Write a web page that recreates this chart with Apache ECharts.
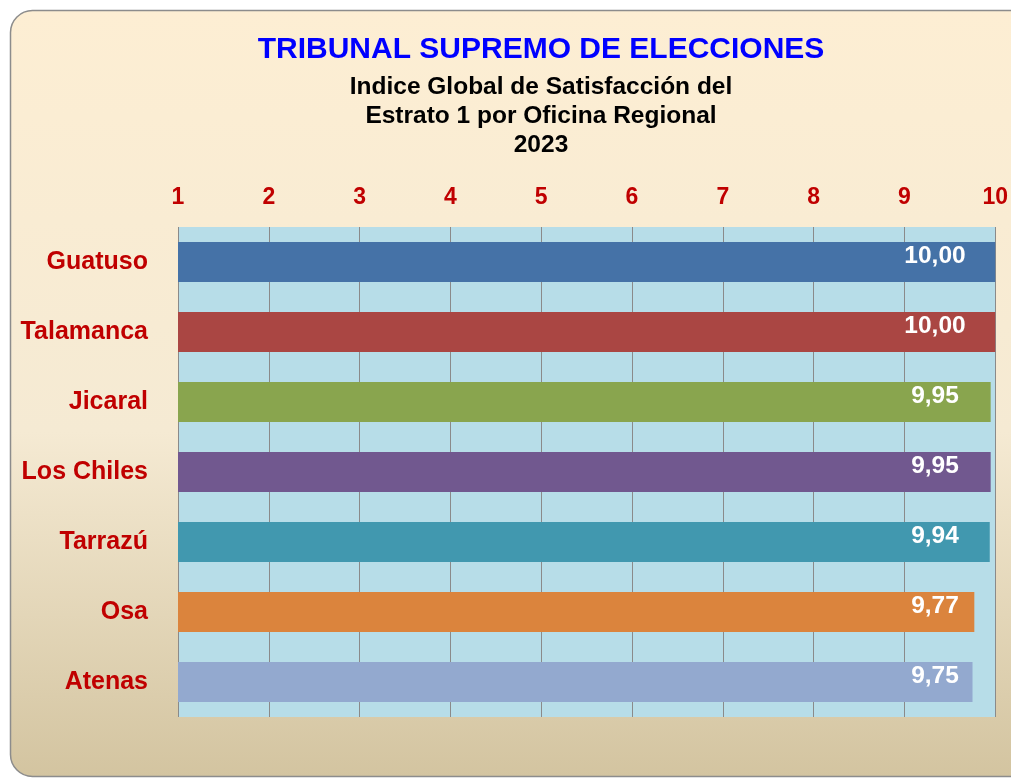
<!DOCTYPE html>
<html>
<head>
<meta charset="utf-8">
<script src="https://cdn.jsdelivr.net/npm/echarts@6/dist/echarts.min.js"></script>
<style>
html,body{margin:0;padding:0;background:#ffffff;}
#chart{width:1011px;height:778px;}
</style>
</head>
<body>
<div id="chart"></div>
<script>
var categories = ['Guatuso', 'Talamanca', 'Jicaral', 'Los Chiles', 'Tarrazú', 'Osa', 'Atenas'];
var values = [10.00, 10.00, 9.95, 9.95, 9.94, 9.77, 9.75];
var axisTicks = [1, 2, 3, 4, 5, 6, 7, 8, 9, 10];
var palette = ['#4572A7', '#AA4643', '#89A54E', '#71588F', '#4198AF', '#DB843D', '#93A9CF'];

var FONT = '"Liberation Sans", Arial, sans-serif';
var chart = echarts.init(document.getElementById('chart'));

chart.setOption({
  animation: false,
  backgroundColor: 'transparent',
  graphic: [{
    type: 'rect',
    z: -10,
    silent: true,
    shape: { x: 10.5, y: 10.5, width: 1030, height: 766, r: 22 },
    style: {
      fill: new echarts.graphic.LinearGradient(0, 0, 0, 1, [
        { offset: 0, color: '#fdeed3' },
        { offset: 0.55, color: '#f5ead3' },
        { offset: 1, color: '#d3c4a0' }
      ]),
      stroke: '#8c8c8c',
      lineWidth: 1.5
    }
  }],
  title: {
    text: 'TRIBUNAL SUPREMO DE ELECCIONES',
    subtext: 'Indice Global de Satisfacción del\nEstrato 1 por Oficina Regional\n2023',
    left: 536,
    top: 30,
    textAlign: 'center',
    itemGap: 8,
    textStyle: { color: '#0000FF', fontSize: 30, fontWeight: 'bold', fontFamily: FONT },
    subtextStyle: { color: '#000000', fontSize: 24.5, fontWeight: 'bold', fontFamily: FONT, lineHeight: 29, align: 'center' }
  },
  grid: {
    left: 178, right: 15, top: 227, bottom: 61,
    show: true,
    backgroundColor: '#B7DDE8',
    borderWidth: 0
  },
  xAxis: {
    type: 'value',
    position: 'top',
    min: axisTicks[0],
    max: axisTicks[axisTicks.length - 1],
    interval: 1,
    axisLine: { show: false },
    axisTick: { show: false },
    axisLabel: {
      color: '#C00000', fontSize: 23, fontWeight: 'bold', fontFamily: FONT, margin: 18,
      formatter: function (v) { return axisTicks.indexOf(v) >= 0 ? String(v) : ''; }
    },
    splitLine: { show: true, lineStyle: { color: '#8a8a8a', width: 1 } }
  },
  yAxis: {
    type: 'category',
    data: categories,
    inverse: true,
    axisLine: { show: false },
    axisTick: { show: false },
    axisLabel: { color: '#C00000', fontSize: 25, fontWeight: 'bold', fontFamily: FONT, margin: 30 },
    splitLine: { show: false }
  },
  series: [{
    type: 'bar',
    data: values,
    barWidth: 40,
    itemStyle: {
      color: function (p) { return palette[p.dataIndex % palette.length]; }
    },
    label: {
      show: true,
      position: [757, 14],
      align: 'center',
      verticalAlign: 'middle',
      color: '#ffffff',
      fontSize: 24.5,
      fontWeight: 'bold',
      fontFamily: FONT,
      formatter: function (p) { return p.value.toFixed(2).replace('.', ','); }
    }
  }]
});
</script>
</body>
</html>
